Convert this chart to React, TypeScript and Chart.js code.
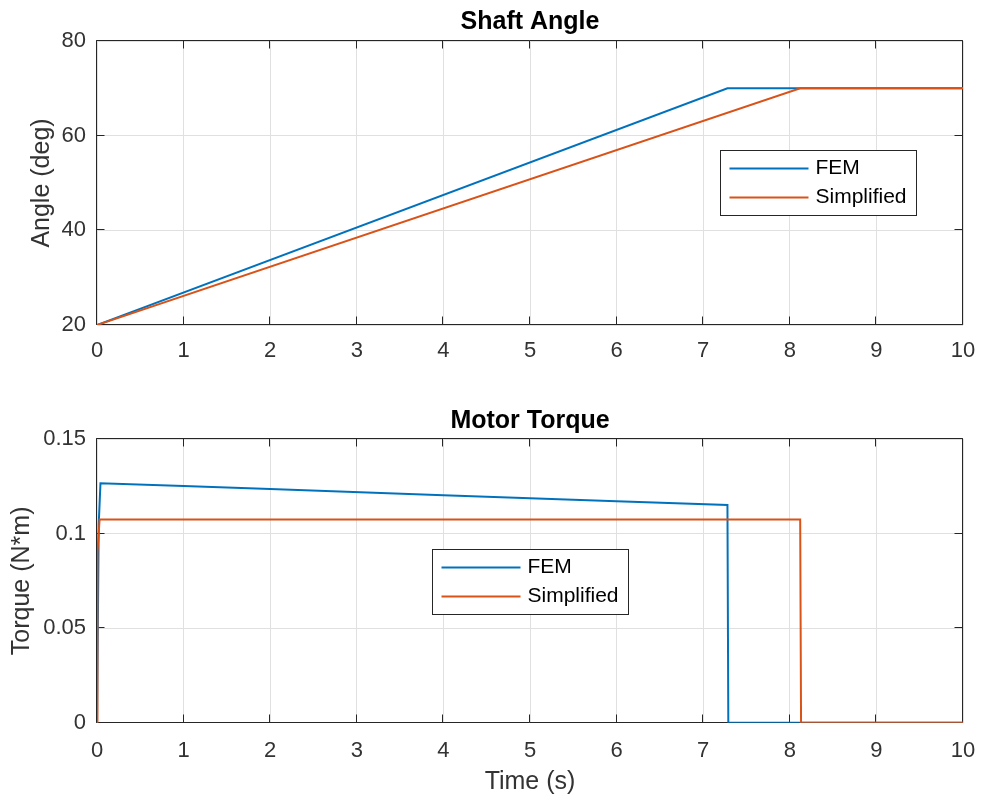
import React, { useEffect, useRef } from "react";
import { Chart, registerables } from "chart.js";

Chart.register(...registerables);

// ---- data ----
const seriesNames = ["FEM", "Simplified"];

const angleTimeFEM = [0, 7.28, 10];
const angleFEM = [20, 70, 70];
const angleTimeSimplified = [0, 8.12, 10];
const angleSimplified = [20, 70, 70];

const torqueTimeFEM = [0, 0.02, 0.04, 1, 2, 4, 6, 7.28, 7.29, 10];
const torqueFEM = [0, 0.105, 0.1266, 0.1251, 0.1235, 0.1203, 0.1171, 0.1151, 0, 0];
const torqueTimeSimplified = [0, 0.005, 0.03, 8.12, 8.13, 10];
const torqueSimplified = [0, 0.09, 0.1075, 0.1075, 0, 0];

const timeTicks = [0, 1, 2, 3, 4, 5, 6, 7, 8, 9, 10];
const angleTicks = [20, 40, 60, 80];
const torqueTicks = [0, 0.05, 0.1, 0.15];
const torqueTickLabels = ["0", "0.05", "0.1", "0.15"];

const COLORS = ["#0072BD", "#D95319"];
const FONT = "'Liberation Sans', Arial, Helvetica, sans-serif";

const toPoints = (xs: number[], ys: number[]) => xs.map((x, i) => ({ x, y: ys[i] }));

const boxPlugin = {
  id: "matlabBox",
  beforeDatasetsDraw(chart: any) {
    const { ctx, chartArea: a, scales } = chart;
    const L = Math.round(a.left) - 0.5;
    const R = Math.round(a.right) - 0.5;
    const T = Math.round(a.top) - 0.5;
    const B = Math.round(a.bottom) - 0.5;
    const len = 8;
    ctx.save();
    ctx.strokeStyle = "#262626";
    ctx.lineWidth = 1;
    ctx.beginPath();
    ctx.rect(L, T, R - L, B - T);
    for (const t of scales.x.ticks) {
      const px = Math.round(scales.x.getPixelForValue(t.value)) - 0.5;
      ctx.moveTo(px, B);
      ctx.lineTo(px, B - len);
      ctx.moveTo(px, T);
      ctx.lineTo(px, T + len);
    }
    for (const t of scales.y.ticks) {
      const py = Math.round(scales.y.getPixelForValue(t.value)) - 0.5;
      ctx.moveTo(L, py);
      ctx.lineTo(L + len, py);
      ctx.moveTo(R, py);
      ctx.lineTo(R - len, py);
    }
    ctx.stroke();
    ctx.restore();
  },
};

const legendPlugin = {
  id: "matlabLegend",
  afterDraw(chart: any, _args: any, opts: any) {
    const { ctx, chartArea: a } = chart;
    const x = Math.round(a.left + opts.dx) + 0.5;
    const y = Math.round(a.top + opts.dy) + 0.5;
    const w = 196;
    const h = 65;
    ctx.save();
    ctx.fillStyle = "#ffffff";
    ctx.fillRect(x, y, w, h);
    ctx.strokeStyle = "#262626";
    ctx.lineWidth = 1;
    ctx.strokeRect(x, y, w, h);
    ctx.font = `21px ${FONT}`;
    ctx.textBaseline = "middle";
    ctx.textAlign = "left";
    chart.data.datasets.forEach((ds: any, i: number) => {
      const ly = y + 18 + i * 29;
      ctx.strokeStyle = ds.borderColor;
      ctx.lineWidth = 2;
      ctx.beginPath();
      ctx.moveTo(x + 9, ly);
      ctx.lineTo(x + 88, ly);
      ctx.stroke();
      ctx.fillStyle = "#000000";
      ctx.fillText(ds.label, x + 95, ly);
    });
    ctx.restore();
  },
};

function makeConfig(opts: {
  title: string;
  yLabel: string;
  xLabel?: string;
  datasets: any[];
  yMin: number;
  yMax: number;
  yTicks: number[];
  yFormat: (v: number) => string;
  titlePad: { top: number; bottom: number };
  yTitlePad: number;
  xTickPad: number;
  xHeight: number;
  legend: { dx: number; dy: number };
}): any {
  return {
    type: "line",
    data: { datasets: opts.datasets },
    options: {
      animation: false,
      responsive: false,
      devicePixelRatio: 1,
      layout: { padding: { left: 0, right: 19, top: 0, bottom: 0 } },
      plugins: {
        legend: { display: false },
        tooltip: { enabled: false },
        title: {
          display: true,
          text: opts.title,
          fullSize: false,
          color: "#000000",
          font: { family: FONT, size: 25, weight: "bold" },
          padding: opts.titlePad,
        },
        matlabLegend: opts.legend,
      },
      elements: { point: { radius: 0 }, line: { tension: 0 } },
      scales: {
        x: {
          type: "linear",
          min: 0,
          max: 10,
          afterBuildTicks: (s: any) => {
            s.ticks = timeTicks.map((v) => ({ value: v }));
          },
          afterFit: (s: any) => {
            s.height = opts.xHeight;
            s.paddingLeft = 0;
            s.paddingRight = 0;
          },
          grid: { color: "#e0e0e0", lineWidth: 1, drawTicks: false },
          border: { display: false },
          ticks: {
            color: "#333333",
            font: { family: FONT, size: 22 },
            padding: opts.xTickPad,
            maxRotation: 0,
            autoSkip: false,
            callback: (v: any) => String(v),
          },
          title: opts.xLabel
            ? {
                display: true,
                text: opts.xLabel,
                color: "#333333",
                font: { family: FONT, size: 25 },
                padding: { top: 0, bottom: 7 },
              }
            : { display: false },
        },
        y: {
          type: "linear",
          min: opts.yMin,
          max: opts.yMax,
          afterBuildTicks: (s: any) => {
            s.ticks = opts.yTicks.map((v) => ({ value: v }));
          },
          afterFit: (s: any) => {
            s.width = 97;
            s.paddingTop = 0;
            s.paddingBottom = 0;
          },
          grid: { color: "#e0e0e0", lineWidth: 1, drawTicks: false },
          border: { display: false },
          ticks: {
            color: "#333333",
            font: { family: FONT, size: 22 },
            padding: 11,
            autoSkip: false,
            callback: (v: any) => opts.yFormat(v),
          },
          title: {
            display: true,
            text: opts.yLabel,
            color: "#333333",
            font: { family: FONT, size: 25 },
            padding: { top: opts.yTitlePad, bottom: 0 },
          },
        },
      },
    },
    plugins: [boxPlugin, legendPlugin],
  };
}

const mkDataset = (i: number, xs: number[], ys: number[]) => ({
  label: seriesNames[i],
  data: toPoints(xs, ys),
  borderColor: COLORS[i],
  backgroundColor: COLORS[i],
  borderWidth: 2,
  pointRadius: 0,
  fill: false,
  order: i === 0 ? 1 : 0,
});

export default function App() {
  const topRef = useRef<HTMLCanvasElement>(null);
  const botRef = useRef<HTMLCanvasElement>(null);

  useEffect(() => {
    const top = new Chart(
      topRef.current as HTMLCanvasElement,
      makeConfig({
        title: "Shaft Angle",
        yLabel: "Angle (deg)",
        datasets: [
          mkDataset(0, angleTimeFEM, angleFEM),
          mkDataset(1, angleTimeSimplified, angleSimplified),
        ],
        yMin: 20,
        yMax: 80,
        yTicks: angleTicks,
        yFormat: (v) => String(v),
        titlePad: { top: 7, bottom: 4 },
        yTitlePad: 27,
        xTickPad: 13,
        xHeight: 77,
        legend: { dx: 623, dy: 109 },
      })
    );
    const bot = new Chart(
      botRef.current as HTMLCanvasElement,
      makeConfig({
        title: "Motor Torque",
        yLabel: "Torque (N*m)",
        xLabel: "Time (s)",
        datasets: [
          mkDataset(0, torqueTimeFEM, torqueFEM),
          mkDataset(1, torqueTimeSimplified, torqueSimplified),
        ],
        yMin: 0,
        yMax: 0.15,
        yTicks: torqueTicks,
        yFormat: (v) => {
          const idx = torqueTicks.findIndex((t) => Math.abs(t - v) < 1e-9);
          return idx >= 0 ? torqueTickLabels[idx] : String(v);
        },
        titlePad: { top: 6, bottom: 3 },
        yTitlePad: 7.5,
        xTickPad: 15,
        xHeight: 81.3,
        legend: { dx: 335, dy: 110 },
      })
    );
    return () => {
      top.destroy();
      bot.destroy();
    };
  }, []);

  return (
    <div
      style={{
        position: "absolute",
        left: 0,
        top: 0,
        width: 982,
        height: 804,
        background: "#ffffff",
        overflow: "hidden",
      }}
    >
      <canvas
        ref={topRef}
        width={982}
        height={402}
        style={{ position: "absolute", left: 0, top: 0, width: 982, height: 402 }}
      />
      <canvas
        ref={botRef}
        width={982}
        height={404}
        style={{ position: "absolute", left: 0, top: 400, width: 982, height: 404 }}
      />
    </div>
  );
}
